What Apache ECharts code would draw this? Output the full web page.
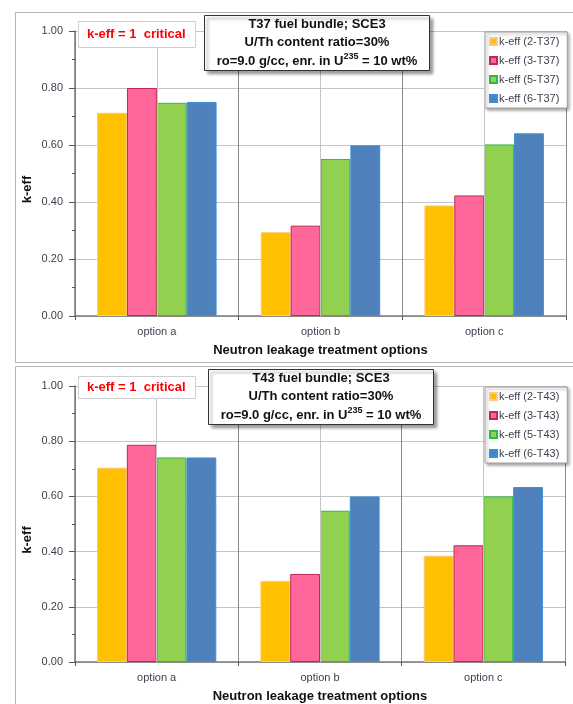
<!DOCTYPE html>
<html>
<head>
<meta charset="utf-8">
<script src="https://cdn.jsdelivr.net/npm/echarts@6/dist/echarts.min.js"></script>
<style>
html,body{margin:0;padding:0;background:#fff;}
#chart{width:573px;height:704px;}
</style>
</head>
<body>
<div id="chart"></div>
<script>
var categories = ['option a', 'option b', 'option c'];
var yTicks = [0, 0.2, 0.4, 0.6, 0.8, 1.0];

var namesT37 = ['k-eff (2-T37)', 'k-eff (3-T37)', 'k-eff (5-T37)', 'k-eff (6-T37)'];
var t37_2 = [0.713, 0.294, 0.388];
var t37_3 = [0.800, 0.317, 0.423];
var t37_5 = [0.748, 0.551, 0.602];
var t37_6 = [0.751, 0.599, 0.641];

var namesT43 = ['k-eff (2-T43)', 'k-eff (3-T43)', 'k-eff (5-T43)', 'k-eff (6-T43)'];
var t43_2 = [0.704, 0.294, 0.385];
var t43_3 = [0.787, 0.319, 0.423];
var t43_5 = [0.741, 0.548, 0.600];
var t43_6 = [0.741, 0.600, 0.634];

var titleTop = ['T37 fuel bundle; SCE3', 'U/Th content ratio=30%', 'ro=9.0 g/cc, enr. in U', '235', ' = 10 wt%'];
var titleBottom = ['T43 fuel bundle; SCE3', 'U/Th content ratio=30%', 'ro=9.0 g/cc, enr. in U', '235', ' = 10 wt%'];
var criticalText = 'k-eff = 1  critical';
var xName = 'Neutron leakage treatment options';
var yName = 'k-eff';

var fills = ['#FFC000', '#FF6699', '#92D050', '#4F81BD'];
var borders = ['#FFC87A', '#C0284F', '#2EB84A', '#3A90D8'];
var FONT = '"Liberation Sans", Arial, sans-serif';

var chart = echarts.init(document.getElementById('chart'), null, {renderer: 'canvas'});

function xAxisCfg(gi) {
  return {
    type: 'category', gridIndex: gi, data: categories,
    boundaryGap: true,
    name: xName, nameLocation: 'middle', nameGap: 28, nameMoveOverlap: false,
    nameTextStyle: {fontFamily: FONT, fontSize: 13, fontWeight: 'bold', color: '#111'},
    axisLine: {show: true, lineStyle: {color: '#7a7a7a', width: 1.5}},
    axisTick: {show: true, length: 4, lineStyle: {color: '#555'}},
    axisLabel: {fontFamily: FONT, fontSize: 11, color: '#404050', margin: 10},
    splitLine: {show: true, lineStyle: {color: '#8a8a8a', width: 1}}
  };
}
function yAxisCfg(gi) {
  return {
    type: 'value', gridIndex: gi, min: yTicks[0], max: yTicks[yTicks.length - 1], interval: 0.2,
    name: yName, nameLocation: 'middle', nameGap: 41, nameRotate: 90, nameMoveOverlap: false,
    nameTextStyle: {fontFamily: FONT, fontSize: 13, fontWeight: 'bold', color: '#111', padding: [0, 32, 0, 0]},
    axisLine: {show: true, lineStyle: {color: '#7a7a7a', width: 1.5}},
    axisTick: {show: true, length: 6, lineStyle: {color: '#555'}},
    minorTick: {show: true, splitNumber: 2, length: 3, lineStyle: {color: '#555'}},
    axisLabel: {fontFamily: FONT, fontSize: 11, color: '#404050', margin: 12,
      formatter: function (v) { return v.toFixed(2); }},
    splitLine: {show: true, lineStyle: {color: '#c4c4c4', width: 1}}
  };
}
function barSeries(name, data, i, gi) {
  return {
    type: 'bar', name: name, data: data, xAxisIndex: gi, yAxisIndex: gi,
    barGap: '0%', barCategoryGap: '27%',
    itemStyle: {color: fills[i], borderColor: borders[i], borderWidth: 1},
    emphasis: {disabled: true}, z: 3
  };
}
function centerLines(gi) {
  return {
    type: 'line', data: [], xAxisIndex: gi, yAxisIndex: gi, z: 1, silent: true,
    markLine: {
      symbol: 'none', silent: true, label: {show: false}, animation: false,
      lineStyle: {color: '#c4c4c4', type: 'solid', width: 1},
      data: categories.map(function (c) { return {xAxis: c}; })
    }
  };
}
function legendCfg(names, top) {
  return {
    data: names, orient: 'vertical', left: 485, top: top,
    icon: 'rect', itemWidth: 7, itemHeight: 7, itemGap: 6,
    backgroundColor: '#fff', borderColor: '#a0a0a0', borderWidth: 1,
    shadowColor: 'rgba(0,0,0,0.35)', shadowBlur: 3, shadowOffsetX: 2, shadowOffsetY: 2,
    padding: [3, 8, 3, 4],
    textStyle: {fontFamily: FONT, fontSize: 11, color: '#404050', padding: [0, 0, 0, -3], lineHeight: 13},
    selectedMode: false
  };
}
function titleBox(lines, left, top) {
  return {
    text: '{b|' + lines[0] + '}\n{b|' + lines[1] + '}\n{b|' + lines[2] + '}{s|' + lines[3] + '}{b|' + lines[4] + '}',
    left: left, top: top, textAlign: 'center',
    backgroundColor: '#fff', borderColor: '#333', borderWidth: 1,
    shadowColor: 'rgba(0,0,0,0.4)', shadowBlur: 3, shadowOffsetX: 3, shadowOffsetY: 3,
    padding: [3, 12, 3, 12],
    textStyle: {
      rich: {
        b: {fontFamily: FONT, fontSize: 13, fontWeight: 'bold', color: '#111', lineHeight: 18.5},
        s: {fontFamily: FONT, fontSize: 9, fontWeight: 'bold', color: '#111', lineHeight: 18.5, verticalAlign: 'top', padding: [0, 0, 7, 0]}
      }
    }
  };
}
function criticalBox(left, top, padV) {
  return {
    text: criticalText, left: left, top: top,
    backgroundColor: '#fff', borderColor: '#cfcfcf', borderWidth: 1,
    padding: [padV, 10, padV, 9],
    textStyle: {fontFamily: FONT, fontSize: 13, fontWeight: 'bold', color: '#FF0000', lineHeight: 15}
  };
}

var option = {
  animation: false,
  backgroundColor: '#fff',
  graphic: [
    {type: 'rect', left: 15, top: 12, z: -10, silent: true,
      shape: {width: 600, height: 350}, style: {fill: '#fff', stroke: '#b4b4b4', lineWidth: 1}},
    {type: 'rect', left: 15, top: 366, z: -10, silent: true,
      shape: {width: 600, height: 400}, style: {fill: '#fff', stroke: '#b4b4b4', lineWidth: 1}}
  ],
  grid: [
    {left: 75, top: 31, width: 491, height: 285, containLabel: false},
    {left: 75, top: 386, width: 490, height: 278, containLabel: false}
  ],
  xAxis: [xAxisCfg(0), xAxisCfg(1)],
  yAxis: [yAxisCfg(0), yAxisCfg(1)],
  legend: [legendCfg(namesT37, 32), legendCfg(namesT43, 387)],
  title: [
    titleBox(titleTop, 305, 12),
    titleBox(titleBottom, 309, 366),
    criticalBox(78, 21, 6),
    criticalBox(78, 376, 4)
  ],
  series: [
    centerLines(0), centerLines(1),
    barSeries(namesT37[0], t37_2, 0, 0),
    barSeries(namesT37[1], t37_3, 1, 0),
    barSeries(namesT37[2], t37_5, 2, 0),
    barSeries(namesT37[3], t37_6, 3, 0),
    barSeries(namesT43[0], t43_2, 0, 1),
    barSeries(namesT43[1], t43_3, 1, 1),
    barSeries(namesT43[2], t43_5, 2, 1),
    barSeries(namesT43[3], t43_6, 3, 1)
  ]
};
chart.setOption(option);
</script>
</body>
</html>
